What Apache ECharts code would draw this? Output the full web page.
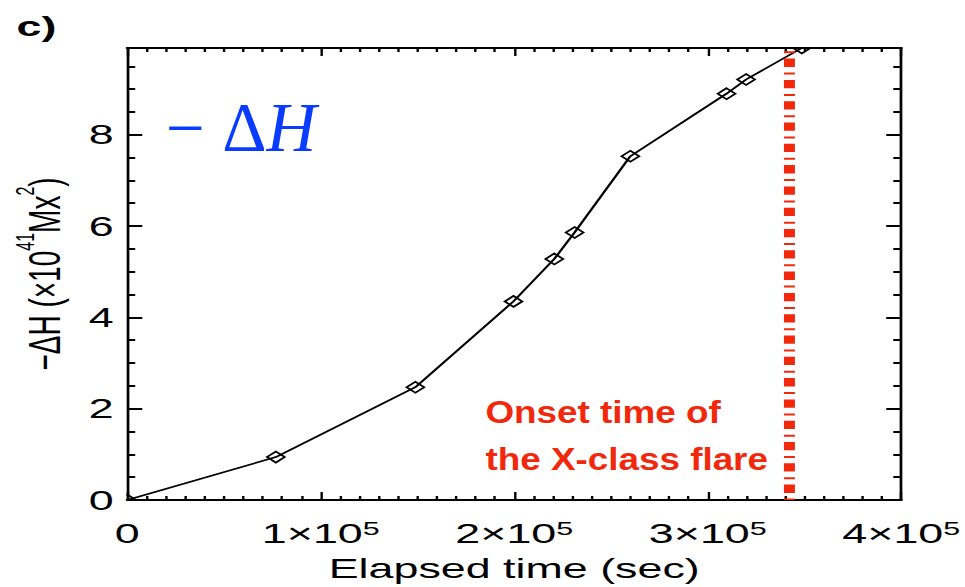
<!DOCTYPE html>
<html>
<head>
<meta charset="utf-8">
<script src="https://cdn.jsdelivr.net/npm/echarts@6/dist/echarts.min.js"></script>
<style>
  html, body { margin: 0; padding: 0; background: #fff; overflow: hidden; width: 965px; height: 587px; }
  /* the plot is laid out on a narrower canvas and widened horizontally */
  #chart { width: 603px; height: 587px; transform: scaleX(1.600332); transform-origin: 0 0; }
</style>
</head>
<body>
<div id="chart"></div>
<script>
// Cumulative helicity change, -ΔH (10^41 Mx^2), against elapsed time (s)
const timeSec   = [0, 76800, 148900, 199600, 220700, 231200, 260000, 309700, 319800, 348600];
const negDeltaH = [0, 0.94, 2.47, 4.35, 5.28, 5.86, 7.53, 8.90, 9.21, 9.90];

// onset of the X-class flare (s)
const flareOnsetSec = 342200;

// axis ranges and tick labels
const xMin = 0, xMax = 400000, xStep = 100000;
const yMin = 0, yMax = 9.9, yStep = 2, yMinorStep = 0.5;
const xTickValues = [0, 100000, 200000, 300000, 400000];
const xTickLabels = [['0', ''], ['1×10', '5'], ['2×10', '5'], ['3×10', '5'], ['4×10', '5']];
const yTickValues = [0, 2, 4, 6, 8];
const yTickLabels = ['0', '2', '4', '6', '8'];

const STRETCH = 965 / 603;
const FONT = '"Liberation Sans", Arial, Helvetica, sans-serif';
const RED = '#f2280c';
const BLUE = '#0a3cff';

// tick labels: mantissa plus raised exponent
const tickRich = {
  b: { fontSize: 28, lineHeight: 28, fontFamily: FONT, color: '#000', verticalAlign: 'bottom' },
  s: { fontSize: 19, lineHeight: 13, fontFamily: FONT, color: '#000', verticalAlign: 'top' }
};
// axis title: smaller, higher superscripts
const titleRich = {
  b: { fontSize: 28, lineHeight: 34, fontFamily: FONT, color: '#000', verticalAlign: 'bottom' },
  s: { fontSize: 16, lineHeight: 2, fontFamily: FONT, color: '#000', verticalAlign: 'top' }
};

function xLabel(v) {
  const i = xTickValues.indexOf(v);
  if (i < 0) return '';
  const [b, s] = xTickLabels[i];
  return s ? `{b|${b}}{s|${s}}` : `{b|${b}}`;
}
function yLabel(v) {
  const i = yTickValues.indexOf(v);
  return i < 0 ? '' : `{b|${yTickLabels[i]}}`;
}

function xAxisDef(position, withLabels) {
  return {
    type: 'value', position, min: xMin, max: xMax, interval: xStep,
    axisLine: { show: true, onZero: false, lineStyle: { color: '#000', width: 2 } },
    axisTick: { show: true, inside: true, length: 8, lineStyle: { color: '#000', width: 1.5 } },
    minorTick: { show: true, splitNumber: 10, length: 4, lineStyle: { color: '#000', width: 1.5 } },
    splitLine: { show: false }, minorSplitLine: { show: false },
    axisLabel: withLabels
      ? { show: true, margin: 19, formatter: xLabel, rich: tickRich }
      : { show: false },
    name: withLabels ? 'Elapsed time (sec)' : '',
    nameLocation: 'middle', nameGap: 54,
    nameTextStyle: { fontSize: 28, fontFamily: FONT, color: '#000' }
  };
}

function yAxisDef(position, major, withLabels) {
  return {
    type: 'value', position, min: yMin, max: yMax,
    interval: major ? yStep : yMinorStep,
    axisLine: { show: major, onZero: false, lineStyle: { color: '#000', width: 1.7 } },
    axisTick: { show: true, inside: true, length: major ? 9.4 : 5, lineStyle: { color: '#000', width: 2 } },
    splitLine: { show: false },
    axisLabel: withLabels
      ? { show: true, margin: 8.5, formatter: yLabel, rich: tickRich, showMaxLabel: false }
      : { show: false },
    name: withLabels ? '{b|−ΔH (×10}{s|41}{b|Mx}{s|2}{b|)}' : '',
    nameLocation: 'middle', nameGap: 37.5,
    nameTextStyle: { rich: titleRich }
  };
}

const chart = echarts.init(document.getElementById('chart'), null, { renderer: 'svg' });

const points = timeSec.map((t, i) => [t, negDeltaH[i]]);
const HALF = 5.5; // half-diagonal of a diamond marker

chart.setOption({
  animation: false,
  backgroundColor: '#fff',
  grid: { left: 123.3 / STRETCH, right: 603 - 901.7 / STRETCH, top: 48, bottom: 86.3 },
  xAxis: [xAxisDef('bottom', true), xAxisDef('top', false)],
  yAxis: [
    yAxisDef('left', true, true),
    yAxisDef('left', false, false),
    yAxisDef('right', true, false),
    yAxisDef('right', false, false)
  ],
  series: [
    {
      name: '-ΔH',
      type: 'line',
      xAxisIndex: 0, yAxisIndex: 0,
      data: points,
      symbol: 'none',
      lineStyle: { color: '#000', width: 1.6 },
      emphasis: { disabled: true },
      z: 2
    },
    {
      // open diamond markers, clipped to the plot frame
      name: '-ΔH markers',
      type: 'custom',
      xAxisIndex: 0, yAxisIndex: 0,
      clip: true,
      data: points,
      renderItem: function (params, api) {
        const c = api.coord([api.value(0), api.value(1)]);
        return {
          type: 'polygon',
          shape: { points: [[c[0], c[1] - HALF], [c[0] + HALF, c[1]], [c[0], c[1] + HALF], [c[0] - HALF, c[1]]] },
          style: { fill: 'none', stroke: '#000', lineWidth: 1.5 }
        };
      },
      z: 2
    },
    {
      name: 'flare onset',
      type: 'line',
      xAxisIndex: 0, yAxisIndex: 0,
      data: [[flareOnsetSec, yMax], [flareOnsetSec, yMin]],
      symbol: 'none',
      lineStyle: { color: RED, width: 11 / STRETCH, type: [2, 5.3, 8.3, 5.7], dashOffset: 17.6, cap: 'butt' },
      emphasis: { disabled: true },
      z: 3
    }
  ],
  graphic: [
    {
      type: 'text', x: 16.5 / STRETCH, y: 26,
      style: { text: 'c)', fontSize: 28, fontWeight: 'bold', fontFamily: FONT, fill: '#000', verticalAlign: 'middle' }
    },
    {
      type: 'text', x: 166 / STRETCH, y: 128, scaleX: 1 / STRETCH,
      style: {
        text: '{m|− }{d|Δ}{h|H}',
        fontSize: 69, fontFamily: '"Liberation Serif", "Times New Roman", serif',
        fill: BLUE, verticalAlign: 'middle',
        rich: {
          m: { fontSize: 69, fontFamily: '"Liberation Serif", serif', fill: BLUE },
          d: { fontSize: 69, fontFamily: '"Liberation Serif", serif', fill: BLUE },
          h: { fontSize: 69, fontFamily: '"Liberation Serif", serif', fontStyle: 'italic', fill: BLUE }
        }
      }
    },
    {
      type: 'text', x: 485.4 / STRETCH, y: 388, scaleX: 1.17 / STRETCH,
      style: {
        text: 'Onset time of\nthe X-class flare',
        fontSize: 31.5, fontWeight: 'bold', fontFamily: FONT,
        fill: RED, lineHeight: 47, verticalAlign: 'top'
      }
    }
  ]
});
</script>
</body>
</html>
